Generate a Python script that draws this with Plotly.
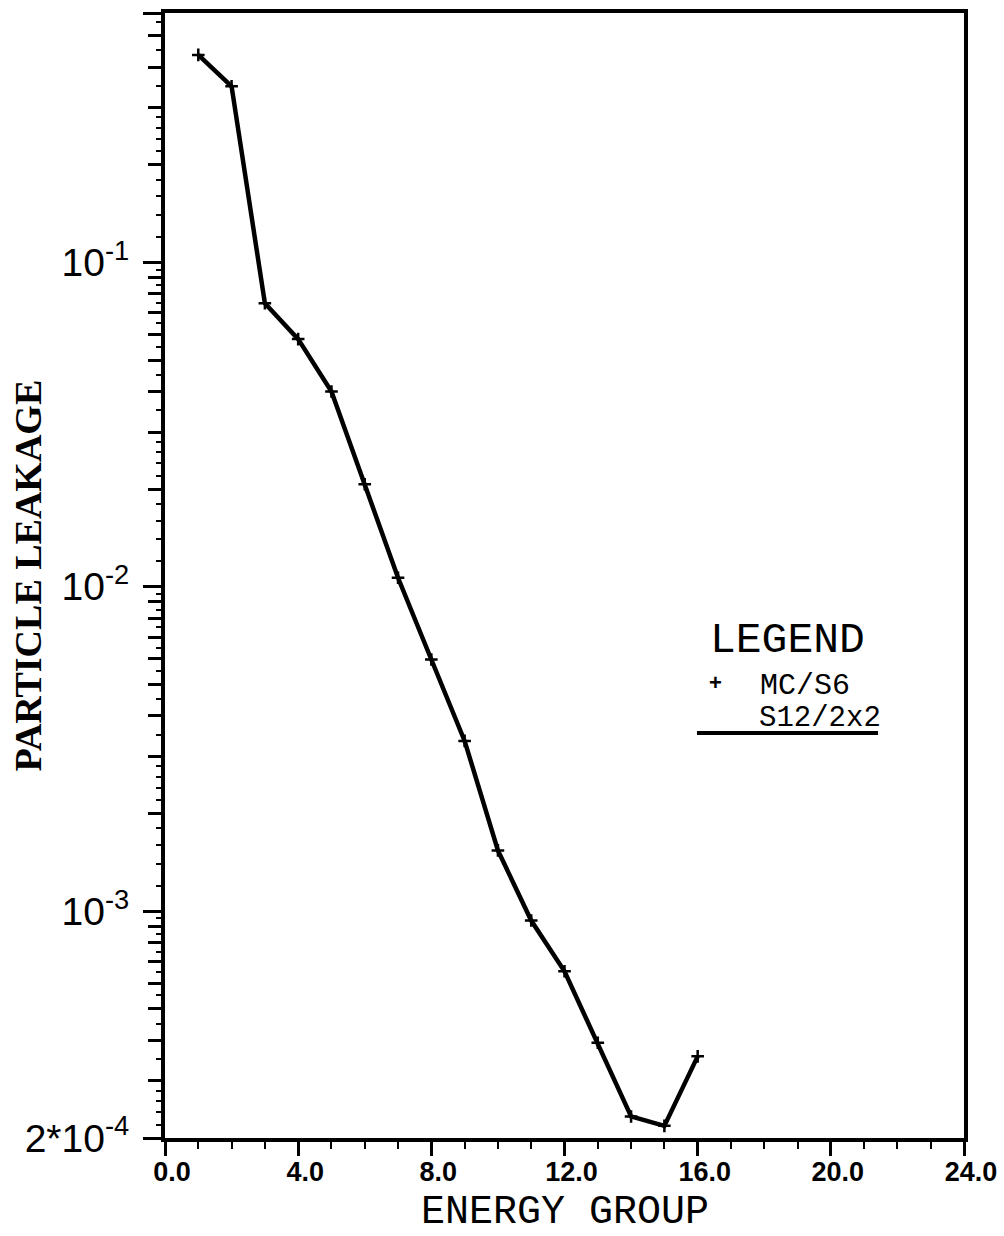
import plotly.graph_objects as go
import math

# ---- data ----
energy_group = [1, 2, 3, 4, 5, 6, 7, 8, 9, 10, 11, 12, 13, 14, 15, 16]
leakage = [0.436, 0.349, 0.0748, 0.058, 0.040, 0.0207, 0.01066, 0.00597,
           0.00335, 0.00154, 9.36e-4, 6.53e-4, 3.93e-4, 2.33e-4, 2.18e-4, 3.57e-4]

x_tick_vals = [0, 4, 8, 12, 16, 20, 24]
x_tick_text = ["0.0", "4.0", "8.0", "12.0", "16.0", "20.0", "24.0"]
y_bottom = 2e-4
y_top = 0.587
y_tick_vals = [2e-4, 1e-3, 1e-2, 1e-1, y_top]
y_tick_text = ["2*10<sup>-4</sup>", "10<sup>-3</sup>", "10<sup>-2</sup>", "10<sup>-1</sup>", " "]
x_title = "ENERGY GROUP"
y_title = "PARTICLE LEAKAGE"

# integer-multiple (medium) and fine (short) log ticks
mid_ticks = []
fine_ticks = []
for k in range(-4, 0):
    for m in range(1, 10):
        v = m * 10 ** k
        if y_bottom < v < y_top and v not in y_tick_vals:
            mid_ticks.append(v)
    fine_steps = [1.2, 1.4, 1.6, 1.8, 2.2, 2.4, 2.6, 2.8, 3.5, 4.5, 5.5, 6.5, 7.5, 8.5, 9.5]
    for f in fine_steps:
        v = f * 10 ** k
        if y_bottom < v < y_top:
            fine_ticks.append(v)

yr = [math.log10(y_bottom), math.log10(y_top)]

fig = go.Figure()
fig.add_trace(go.Scatter(
    x=energy_group, y=leakage, mode="lines+markers",
    line=dict(color="black", width=4.5),
    marker=dict(symbol="cross-thin", size=9, line=dict(color="black", width=2.5)),
    showlegend=False, hoverinfo="skip",
))
fig.add_trace(go.Scatter(x=[None], y=[None], yaxis="y2", showlegend=False, hoverinfo="skip"))

mono = "Liberation Mono, Courier New, monospace"

fig.update_layout(
    width=1004, height=1236,
    margin=dict(l=165, r=40, t=13, b=98),
    paper_bgcolor="white", plot_bgcolor="white",
    xaxis=dict(
        range=[0, 24], tickvals=x_tick_vals, ticktext=x_tick_text,
        ticks="outside", ticklen=14, tickwidth=3, tickcolor="black",
        minor=dict(dtick=1, ticks="outside", ticklen=7, tickwidth=2, tickcolor="black"),
        showline=True, linewidth=4, linecolor="black", mirror=True,
        showgrid=False, zeroline=False, automargin=False,
        tickfont=dict(family="Liberation Sans, Arial, sans-serif", size=27, color="black", weight="bold"),
        ticklabelshift=7, ticklabelstandoff=-7,
    ),
    yaxis=dict(
        type="log", range=yr, tickvals=y_tick_vals, ticktext=y_tick_text,
        ticks="outside", ticklen=18, tickwidth=3, tickcolor="black",
        minor=dict(tickvals=mid_ticks, ticks="outside", ticklen=13, tickwidth=3, tickcolor="black"),
        showline=True, linewidth=4, linecolor="black", mirror=True,
        showgrid=False, zeroline=False, automargin=False,
        tickfont=dict(family="Liberation Sans, Arial, sans-serif", size=39, color="black"),
        ticklabelstandoff=6,
    ),
    yaxis2=dict(
        type="log", range=yr, overlaying="y", side="left", anchor="x",
        tickvals=fine_ticks, ticks="outside", ticklen=8, tickwidth=2, tickcolor="black",
        showticklabels=False, showline=False, showgrid=False, zeroline=False, automargin=False,
    ),
)

# axis titles
fig.add_annotation(xref="paper", yref="paper", x=0.5, y=-0.0665, text=x_title,
                   xanchor="center", yanchor="middle", showarrow=False,
                   font=dict(family=mono, size=40, color="black"))
fig.add_annotation(xref="paper", yref="paper", x=-0.1715, y=0.5, text=y_title, textangle=-90,
                   xanchor="center", yanchor="middle", showarrow=False,
                   font=dict(family="Liberation Serif, Times New Roman, serif", size=38,
                             color="black", weight="bold"))

# custom legend block
fig.add_annotation(xref="paper", yref="paper", x=0.7797, y=0.4418, text="LEGEND",
                   xanchor="center", yanchor="middle",
                   showarrow=False, font=dict(family=mono, size=43, color="black"))
fig.add_annotation(xref="paper", yref="paper", x=0.6896, y=0.4053, text="<b>+</b>",
                   xanchor="center", yanchor="middle",
                   showarrow=False, font=dict(family="Liberation Sans, Arial", size=22, color="black"))
fig.add_annotation(xref="paper", yref="paper", x=0.7422, y=0.4018, text="MC/S6",
                   xanchor="left", yanchor="middle",
                   showarrow=False, font=dict(family=mono, size=30, color="black"))
fig.add_annotation(xref="paper", yref="paper", x=0.741, y=0.3733, text="S12/2x2",
                   xanchor="left", yanchor="middle",
                   showarrow=False, font=dict(family=mono, size=29, color="black"))
fig.add_shape(type="line", xref="paper", yref="paper", x0=0.6658, x1=0.8924, y0=0.36, y1=0.36,
              line=dict(color="black", width=4))

fig.write_html("out.html")
